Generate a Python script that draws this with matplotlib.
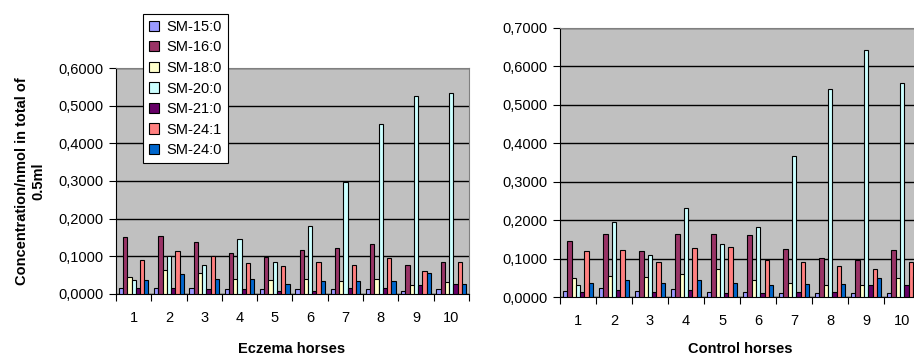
import numpy as np
import matplotlib.pyplot as plt

plt.rcParams['font.family'] = ['Liberation Sans', 'DejaVu Sans']

horses = ["1", "2", "3", "4", "5", "6", "7", "8", "9", "10"]
species = ["SM-15:0", "SM-16:0", "SM-18:0", "SM-20:0", "SM-21:0", "SM-24:1", "SM-24:0"]
colors = ["#9999FF", "#993366", "#FFFFCC", "#CCFFFF", "#660066", "#FF8080", "#0066CC"]

# eczema horses, one list per sphingomyelin species
ecz_sm15 = [0.017, 0.017, 0.017, 0.012, 0.012, 0.012, 0.012, 0.012, 0.009, 0.012]
ecz_sm16 = [0.152, 0.155, 0.139, 0.110, 0.097, 0.118, 0.121, 0.134, 0.076, 0.085]
ecz_sm18 = [0.046, 0.065, 0.056, 0.041, 0.036, 0.041, 0.035, 0.041, 0.024, 0.033]
ecz_sm20 = [0.037, 0.100, 0.077, 0.147, 0.086, 0.181, 0.298, 0.452, 0.525, 0.533]
ecz_sm21 = [0.017, 0.017, 0.012, 0.012, 0.009, 0.009, 0.017, 0.017, 0.024, 0.027]
ecz_sm241 = [0.090, 0.114, 0.100, 0.081, 0.073, 0.085, 0.077, 0.096, 0.060, 0.085]
ecz_sm240 = [0.037, 0.053, 0.041, 0.041, 0.027, 0.035, 0.035, 0.035, 0.056, 0.027]

# control horses
ctl_sm15 = [0.016, 0.024, 0.016, 0.020, 0.013, 0.013, 0.010, 0.010, 0.010, 0.010]
ctl_sm16 = [0.147, 0.163, 0.119, 0.163, 0.165, 0.161, 0.126, 0.102, 0.097, 0.122]
ctl_sm18 = [0.049, 0.056, 0.052, 0.061, 0.074, 0.045, 0.037, 0.030, 0.030, 0.050]
ctl_sm20 = [0.031, 0.195, 0.109, 0.231, 0.137, 0.181, 0.368, 0.542, 0.642, 0.558]
ctl_sm21 = [0.013, 0.017, 0.013, 0.017, 0.010, 0.010, 0.014, 0.014, 0.030, 0.030]
ctl_sm241 = [0.119, 0.123, 0.091, 0.128, 0.129, 0.097, 0.090, 0.081, 0.074, 0.090]
ctl_sm240 = [0.037, 0.044, 0.037, 0.044, 0.037, 0.030, 0.033, 0.033, 0.050, 0.054]

eczema = [ecz_sm15, ecz_sm16, ecz_sm18, ecz_sm20, ecz_sm21, ecz_sm241, ecz_sm240]
control = [ctl_sm15, ctl_sm16, ctl_sm18, ctl_sm20, ctl_sm21, ctl_sm241, ctl_sm240]


def draw_panel(ax, series, ymax):
    x = np.arange(len(horses))
    width = 0.12
    bars = []
    for i, vals in enumerate(series):
        b = ax.bar(x + (i - 3) * width, vals, width, color=colors[i],
                   edgecolor="black", linewidth=0.8, zorder=3)
        bars.append(b)

    ax.set_facecolor("#C0C0C0")
    ax.set_xlim(-0.5, len(horses) - 0.5)
    ax.set_ylim(0, ymax)
    ticks = np.arange(0, ymax + 0.001, 0.1)
    ax.set_yticks(ticks)
    ax.set_yticklabels([f"{t:.4f}".replace(".", ",") for t in ticks], fontsize=10.5)
    ax.yaxis.grid(True, color="black", linewidth=1.0, zorder=1)

    ax.set_xticks(x)
    ax.set_xticklabels(horses, fontsize=10.5)
    ax.set_xticks(np.arange(-0.5, len(horses)), minor=True)
    ax.tick_params(axis="x", which="major", length=0, pad=12)
    ax.tick_params(axis="x", which="minor", length=5, width=0.8)
    ax.tick_params(axis="y", length=5, width=0.8, pad=4)

    for side in ["top", "right"]:
        ax.spines[side].set_color("#808080")
    for side in ["left", "bottom"]:
        ax.spines[side].set_color("black")
    return bars


fig = plt.figure(figsize=(9.14, 3.57), dpi=100)
ax1 = fig.add_axes([0.1269, 0.1765, 0.3862, 0.633])
ax2 = fig.add_axes([0.6127, 0.168, 0.3939, 0.7536])

bars = draw_panel(ax1, eczema, 0.6)
draw_panel(ax2, control, 0.7)

fig.text(292 / 914, 1 - 349 / 357, "Eczema horses", ha="center", va="center",
         fontsize=10.5, fontweight="bold")
fig.text(740 / 914, 1 - 349 / 357, "Control horses", ha="center", va="center",
         fontsize=10.5, fontweight="bold")

fig.text(0.033, 0.493, "Concentration/nmol in total of\n0.5ml", rotation=90,
         ha="center", va="center", multialignment="center",
         fontsize=10.5, fontweight="bold")

leg = fig.legend(bars, species, loc="upper left",
                 bbox_to_anchor=(143 / 914, 1 - 14 / 357),
                 fontsize=10.5, frameon=True, fancybox=False,
                 edgecolor="black", framealpha=1, borderaxespad=0,
                 handlelength=0.7, handleheight=0.7, handletextpad=0.5,
                 labelspacing=0.45, borderpad=0.4)
leg.get_frame().set_linewidth(0.8)

fig.savefig("out.png", dpi=100)
